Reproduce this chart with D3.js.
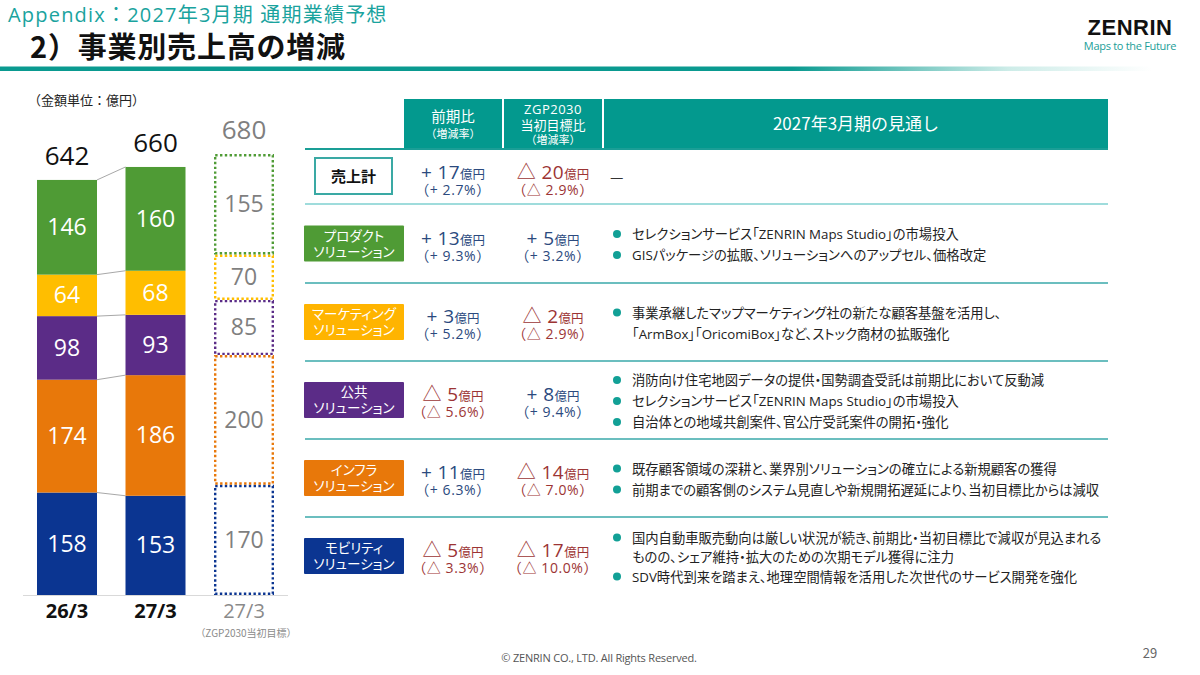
<!DOCTYPE html>
<html><head><meta charset="utf-8">
<script src="https://cdn.jsdelivr.net/npm/d3@7"></script>
<style>
html,body{margin:0;padding:0;background:#fff;}
svg{display:block;font-family:"Noto Sans CJK JP","Noto Sans",sans-serif;}
.palt{font-feature-settings:"palt";}
.num{font-family:"Open Sans","Noto Sans CJK JP",sans-serif;}
</style></head>
<body><svg id="c" width="1200" height="675"></svg>
<script>
// ---------- data ----------
const periodKeys = ["26/3", "27/3", "27/3目標"];
const periodLabels = ["26/3", "27/3", "27/3"];
const targetNote = "（ZGP2030当初目標）";
const segmentNames = ["モビリティ", "インフラ", "公共", "マーケティング", "プロダクト"]; // bottom -> top
const segmentColors = ["#0b3591", "#e8780a", "#5b2c87", "#ffbe00", "#4f9b35"];
const sales2603 = [158, 174, 98, 64, 146];
const sales2703 = [153, 186, 93, 68, 160];
const target2703 = [170, 200, 85, 70, 155];
const totals = [642, 660, 680];

const rowLabels = [["売上計"], ["プロダクト", "ソリューション"], ["マーケティング", "ソリューション"], ["公共", "ソリューション"], ["インフラ", "ソリューション"], ["モビリティ", "ソリューション"]];
const rowColors = [null, "#4f9b35", "#ffb400", "#5b2c87", "#e8780a", "#0b3591"];
const yoyAmount = [17, 13, 3, -5, 11, -5];
const yoyRate = ["2.7", "9.3", "5.2", "5.6", "6.3", "3.3"];
const targetAmount = [-20, 5, -2, 8, -14, -17];
const targetRate = ["2.9", "3.2", "2.9", "9.4", "7.0", "10.0"];
const outlook = [
  null,
  [["セレクションサービス「ZENRIN Maps Studio」の市場投入"], ["GISパッケージの拡販、ソリューションへのアップセル、価格改定"]],
  [["事業承継したマップマーケティング社の新たな顧客基盤を活用し、", "「ArmBox」「OricomiBox」など、ストック商材の拡販強化"]],
  [["消防向け住宅地図データの提供・国勢調査受託は前期比において反動減"], ["セレクションサービス「ZENRIN Maps Studio」の市場投入"], ["自治体との地域共創案件、官公庁受託案件の開拓・強化"]],
  [["既存顧客領域の深耕と、業界別ソリューションの確立による新規顧客の獲得"], ["前期までの顧客側のシステム見直しや新規開拓遅延により、当初目標比からは減収"]],
  [["国内自動車販売動向は厳しい状況が続き、前期比・当初目標比で減収が見込まれる", "ものの、シェア維持・拡大のための次期モデル獲得に注力"], ["SDV時代到来を踏まえ、地理空間情報を活用した次世代のサービス開発を強化"]]
];

// ---------- setup ----------
const svg = d3.select("#c");
const defs = svg.append("defs");
const grad = defs.append("linearGradient").attr("id", "hdrline").attr("x1", "0").attr("x2", "1");
grad.append("stop").attr("offset", "0").attr("stop-color", "#0a9a90");
grad.append("stop").attr("offset", "0.66").attr("stop-color", "#0a9a90");
grad.append("stop").attr("offset", "0.84").attr("stop-color", "#cdece8");
grad.append("stop").attr("offset", "0.96").attr("stop-color", "#ffffff");

// header
svg.append("text").attr("x", 8).attr("y", 22).attr("font-size", 20).attr("fill", "#1aa39e")
  .attr("font-family", "'Open Sans','Noto Sans CJK JP',sans-serif").attr("letter-spacing", 1.2)
  .text("Appendix：2027年3月期 通期業績予想");
svg.append("text").attr("x", 30).attr("y", 58).attr("font-size", 29).attr("font-weight", 700).attr("fill", "#111")
  .attr("letter-spacing", 0.8).text("2）事業別売上高の増減");
svg.append("rect").attr("x", 0).attr("y", 66.5).attr("width", 1200).attr("height", 4.5).attr("fill", "url(#hdrline)");
svg.append("text").attr("x", 1130).attr("y", 35).attr("text-anchor", "middle").attr("font-size", 22)
  .attr("font-weight", 900).attr("fill", "#111").attr("font-family", "'Liberation Sans',Arial,sans-serif").attr("letter-spacing", 0.5).text("ZENRIN");
svg.append("text").attr("x", 1130).attr("y", 50).attr("text-anchor", "middle").attr("font-size", 11)
  .attr("fill", "#1a9e98").attr("font-family", "'Open Sans',sans-serif").attr("letter-spacing", -0.3).text("Maps to the Future");

// ---------- stacked bar chart ----------
svg.append("text").attr("x", 28).attr("y", 105).attr("font-size", 13).attr("fill", "#222")
  .text("（金額単位：億円）");

const x = d3.scaleBand().domain(periodKeys).range([37, 274]).paddingInner(0.322).paddingOuter(0);
const y = d3.scaleLinear().domain([0, 680]).range([595, 154]);
const series = [sales2603, sales2703, target2703];

function stackOf(vals) {
  let acc = 0;
  return vals.map((v, i) => { const s = { i, v, y0: acc, y1: acc + v }; acc += v; return s; });
}
const stacks = series.map(stackOf);

// connectors between first two bars
const conn = svg.append("g").attr("stroke", "#a8a8a8").attr("stroke-width", 1);
stacks[0].forEach((s, i) => {
  conn.append("line")
    .attr("x1", x(periodKeys[0]) + x.bandwidth()).attr("y1", y(s.y1))
    .attr("x2", x(periodKeys[1])).attr("y2", y(stacks[1][i].y1));
});

[0, 1].forEach(b => {
  const g = svg.append("g");
  g.selectAll("rect").data(stacks[b]).join("rect")
    .attr("x", x(periodKeys[b])).attr("width", x.bandwidth())
    .attr("y", d => y(d.y1)).attr("height", d => y(d.y0) - y(d.y1))
    .attr("fill", d => segmentColors[d.i]);
  g.selectAll("text").data(stacks[b]).join("text").attr("class", "num")
    .attr("x", x(periodKeys[b]) + x.bandwidth() / 2)
    .attr("y", d => (y(d.y0) + y(d.y1)) / 2 + 8)
    .attr("text-anchor", "middle").attr("font-size", 23).attr("fill", "#fff")
    .text(d => d.v);
});
// target (dotted)
{
  const g = svg.append("g");
  g.selectAll("rect").data(stacks[2]).join("rect")
    .attr("x", x(periodKeys[2]) + 1.2).attr("width", x.bandwidth() - 2.4)
    .attr("y", d => y(d.y1) + 1.2).attr("height", d => y(d.y0) - y(d.y1) - 2.4)
    .attr("fill", "none").attr("stroke", d => segmentColors[d.i])
    .attr("stroke-width", 2.4).attr("stroke-dasharray", "2.4 2.4");
  g.selectAll("text").data(stacks[2]).join("text").attr("class", "num")
    .attr("x", x(periodKeys[2]) + x.bandwidth() / 2)
    .attr("y", d => (y(d.y0) + y(d.y1)) / 2 + 8)
    .attr("text-anchor", "middle").attr("font-size", 23).attr("fill", "#7f7f7f")
    .text(d => d.v);
}
// totals
svg.append("g").selectAll("text").data(totals).join("text").attr("class", "num")
  .attr("x", (d, i) => x(periodKeys[i]) + x.bandwidth() / 2)
  .attr("y", (d, i) => y(stacks[i][stacks[i].length - 1].y1) - 15)
  .attr("text-anchor", "middle").attr("font-size", 26)
  .attr("fill", (d, i) => i === 2 ? "#7f7f7f" : "#111").attr("font-weight", 500)
  .text(d => d);

// baseline + axis
svg.append("line").attr("x1", 23).attr("x2", 288).attr("y1", 595.5).attr("y2", 595.5)
  .attr("stroke", "#d9d9d9").attr("stroke-width", 1);
const axis = svg.append("g").attr("transform", "translate(0,596)")
  .call(d3.axisBottom(x).tickSize(0).tickPadding(8).tickFormat((d, i) => periodLabels[i]));
axis.select(".domain").remove();
axis.selectAll("text").attr("font-size", 20).attr("font-family", "'Open Sans',sans-serif")
  .attr("font-weight", (d, i) => i < 2 ? 700 : 400)
  .attr("fill", (d, i) => i < 2 ? "#111" : "#8a8a8a");
svg.append("text").attr("x", x(periodKeys[2]) + x.bandwidth() / 2 + 2).attr("y", 637)
  .attr("text-anchor", "middle").attr("font-size", 10).attr("fill", "#8a8a8a").text(targetNote);

// ---------- table ----------
const colL = 305, colR = 1108;
const c1 = [404, 502], c2 = [504, 602], c3 = [604, 1108];
const hdrTop = 99, hdrBot = 148;
const hdr = svg.append("g");
[c1, c2, c3].forEach(c => hdr.append("rect").attr("x", c[0]).attr("y", hdrTop).attr("width", c[1] - c[0]).attr("height", hdrBot - hdrTop).attr("fill", "#03998e"));
const hc1 = (c1[0] + c1[1]) / 2, hc2 = (c2[0] + c2[1]) / 2, hc3 = (c3[0] + c3[1]) / 2;
hdr.append("text").attr("x", hc1).attr("y", 122).attr("text-anchor", "middle").attr("font-size", 14.5).attr("fill", "#fff").text("前期比");
hdr.append("text").attr("x", hc1).attr("y", 138).attr("text-anchor", "middle").attr("font-size", 11).attr("fill", "#fff").text("（増減率）");
hdr.append("text").attr("x", hc2).attr("y", 114).attr("text-anchor", "middle").attr("font-size", 13).attr("fill", "#fff")
  .attr("font-family", "'Open Sans',sans-serif").attr("letter-spacing", 0.5).text("ZGP2030");
hdr.append("text").attr("x", hc2).attr("y", 130).attr("text-anchor", "middle").attr("font-size", 13).attr("fill", "#fff").text("当初目標比");
hdr.append("text").attr("x", hc2).attr("y", 144).attr("text-anchor", "middle").attr("font-size", 11).attr("fill", "#fff").text("（増減率）");
hdr.append("text").attr("x", hc3).attr("y", 130).attr("text-anchor", "middle").attr("font-size", 17).attr("fill", "#fff").text("2027年3月期の見通し");
svg.append("line").attr("x1", colL).attr("x2", colR).attr("y1", 149).attr("y2", 149).attr("stroke", "#1a9e96").attr("stroke-width", 2);

const rowBounds = [150, 204, 283, 361, 439, 517, 595];
svg.append("g").selectAll("line").data(rowBounds.slice(1, 6)).join("line")
  .attr("x1", colL).attr("x2", colR).attr("y1", d => d).attr("y2", d => d)
  .attr("stroke", (d, i) => i === 0 ? "#9fdcdc" : "#3aa8aa").attr("stroke-width", (d, i) => i === 0 ? 2 : 1.5);

const POS = "#2b4a7e", NEG = "#9c3434";
function amtText(g, cx, cy, v) {
  const t = g.append("text").attr("class", "num").attr("x", cx).attr("y", cy).attr("text-anchor", "middle").attr("fill", v < 0 ? NEG : POS);
  t.append("tspan").attr("font-size", 19).attr("letter-spacing", 0.4).text((v < 0 ? "△ " : "+ ") + Math.abs(v));
  t.append("tspan").attr("font-size", 12.5).text("億円");
}
function rateText(g, cx, cy, v, r) {
  g.append("text").attr("class", "num").attr("x", cx).attr("y", cy).attr("text-anchor", "middle").attr("font-size", 14)
    .attr("letter-spacing", 0.6).attr("fill", v < 0 ? NEG : POS).text("（" + (v < 0 ? "△ " : "+ ") + r + "%）");
}

rowLabels.forEach((lab, r) => {
  const top = rowBounds[r], bot = rowBounds[r + 1];
  const cy = (top + bot) / 2;
  const g = svg.append("g");
  if (r === 0) {
    g.append("rect").attr("x", 315).attr("y", 158).attr("width", 77).attr("height", 36)
      .attr("fill", "#fff").attr("stroke", "#3aa9a4").attr("stroke-width", 2);
    g.append("text").attr("x", 353.5).attr("y", 182).attr("text-anchor", "middle").attr("font-size", 15)
      .attr("font-weight", 700).attr("fill", "#111").text(lab[0]);
  } else {
    g.append("rect").attr("x", 304).attr("y", cy - 18).attr("width", 100).attr("height", 36)
      .attr("fill", rowColors[r]).attr("rx", 1);
    lab.forEach((l, k) => g.append("text").attr("x", 354).attr("y", cy - 3 + k * 16)
      .attr("text-anchor", "middle").attr("font-size", 13.5).attr("fill", "#fff").attr("class", "palt").text(l));
  }
  const vy = r === 0 ? 179 : cy + 1;
  amtText(g, hc1, vy, yoyAmount[r]);
  rateText(g, hc1, vy + 16, yoyAmount[r], yoyRate[r]);
  amtText(g, hc2, vy, targetAmount[r]);
  rateText(g, hc2, vy + 16, targetAmount[r], targetRate[r]);

  if (!outlook[r]) {
    g.append("text").attr("x", 610).attr("y", 183).attr("font-size", 15).attr("fill", "#333").text("—");
  } else {
    const lines = [];
    outlook[r].forEach(b => b.forEach((l, k) => lines.push({ l, bullet: k === 0 })));
    const lh = r === 5 ? 19.5 : 21;
    const y0 = cy + 1 - (lines.length - 1) * lh / 2;
    lines.forEach((ln, k) => {
      const ly = y0 + k * lh;
      if (ln.bullet) g.append("circle").attr("cx", 617).attr("cy", ly).attr("r", 4).attr("fill", "#12a096");
      g.append("text").attr("x", 632).attr("y", ly + 5).attr("font-size", 13.3).attr("fill", "#222")
        .attr("font-family", "'Open Sans','Noto Sans CJK JP',sans-serif")
        .attr("class", "palt").text(ln.l);
    });
  }
});

// footer
svg.append("text").attr("x", 599).attr("y", 662).attr("text-anchor", "middle").attr("font-size", 11)
  .attr("fill", "#555").attr("font-family", "'Open Sans',sans-serif").attr("letter-spacing", -0.2).text("© ZENRIN CO., LTD. All Rights Reserved.");
svg.append("text").attr("x", 1150).attr("y", 658).attr("text-anchor", "middle").attr("font-size", 13)
  .attr("fill", "#666").text("29");
</script></body></html>
